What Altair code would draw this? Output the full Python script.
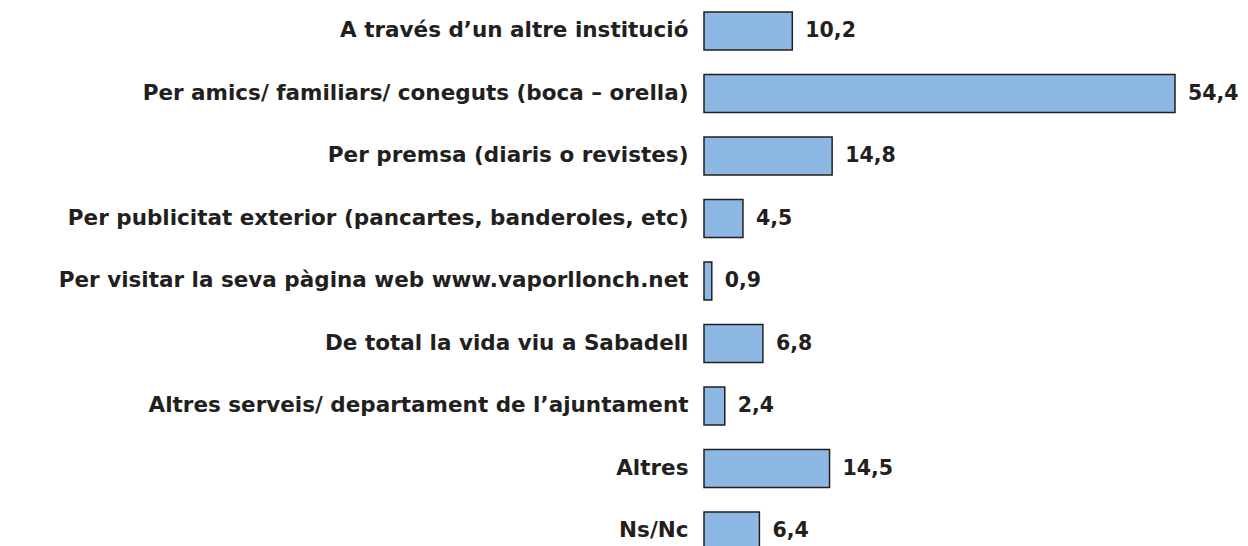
import altair as alt
import pandas as pd

categories = [
    "A través d’un altre institució",
    "Per amics/ familiars/ coneguts (boca – orella)",
    "Per premsa (diaris o revistes)",
    "Per publicitat exterior (pancartes, banderoles, etc)",
    "Per visitar la seva pàgina web www.vaporllonch.net",
    "De total la vida viu a Sabadell",
    "Altres serveis/ departament de l’ajuntament",
    "Altres",
    "Ns/Nc",
]
values = [10.2, 54.4, 14.8, 4.5, 0.9, 6.8, 2.4, 14.5, 6.4]
value_labels = ["10,2", "54,4", "14,8", "4,5", "0,9", "6,8", "2,4", "14,5", "6,4"]

df = pd.DataFrame({"cat": categories, "val": values, "lbl": value_labels})

FONT = "DejaVu Sans"
INK = "#231f20"

y_enc = alt.Y(
    "cat:N",
    sort=categories,
    title=None,
    scale=alt.Scale(paddingInner=0.39, paddingOuter=0.063),
    axis=alt.Axis(
        domain=False,
        ticks=False,
        grid=False,
        labelPadding=16,
        labelFont=FONT,
        labelFontWeight="bold",
        labelFontSize=21.5,
        labelColor=INK,
        labelLimit=0,
    ),
)
x_enc = alt.X("val:Q", scale=alt.Scale(domain=[0, 54.4], nice=False, zero=True), axis=None)

bars = alt.Chart(df).mark_bar(color="#8DB8E3", stroke=INK, strokeWidth=1.5).encode(x=x_enc, y=y_enc)
text = alt.Chart(df).mark_text(
    align="left", baseline="middle", dx=13, font=FONT, fontWeight="bold", fontSize=20.5, color=INK
).encode(x=x_enc, y=y_enc, text="lbl:N")

chart = (
    (bars + text)
    .properties(
        width=471,
        height=546,
        autosize=alt.AutoSizeParams(type="none"),
        padding={"left": 696, "top": 0, "right": 65, "bottom": 0},
        background="white",
    )
    .configure_view(stroke=None)
)

chart.save("out.html", embed_options={"renderer": "svg", "actions": False})
